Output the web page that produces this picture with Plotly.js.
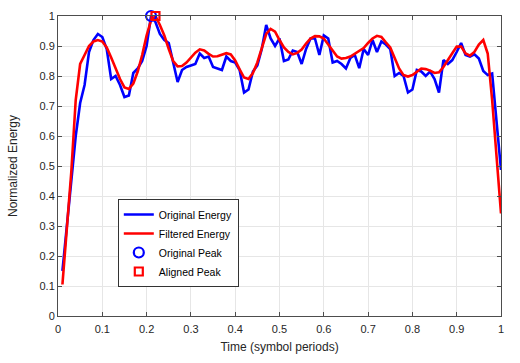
<!DOCTYPE html>
<html>
<head>
<meta charset="utf-8">
<script src="https://cdn.plot.ly/plotly-3.0.1.min.js"></script>
<style>
  html, body { margin: 0; padding: 0; background: #fff; }
  #plot { width: 520px; height: 363px; }
</style>
</head>
<body>
<div id="plot"></div>
<script>
// time axis, symbol periods (0.01 .. 1.00)
var t = [];
for (var i = 1; i <= 100; i++) t.push(i / 100);

// original energy
var origEnergy = [
  0.15, 0.30, 0.45, 0.60, 0.71, 0.77, 0.88, 0.92, 0.94, 0.93,
  0.89, 0.79, 0.80, 0.77, 0.73, 0.735, 0.81, 0.825, 0.85, 0.90,
  1.00, 0.98, 0.94, 0.92, 0.91, 0.85, 0.78, 0.82, 0.83, 0.835,
  0.84, 0.875, 0.86, 0.865, 0.83, 0.825, 0.82, 0.865, 0.85, 0.845,
  0.82, 0.745, 0.755, 0.815, 0.835, 0.89, 0.97, 0.925, 0.90, 0.925,
  0.85, 0.855, 0.885, 0.88, 0.84, 0.89, 0.925, 0.925, 0.87, 0.935,
  0.925, 0.845, 0.85, 0.84, 0.825, 0.86, 0.87, 0.826, 0.89, 0.87,
  0.92, 0.88, 0.915, 0.905, 0.89, 0.80, 0.81, 0.80, 0.745, 0.755,
  0.82, 0.815, 0.80, 0.815, 0.79, 0.745, 0.853, 0.84, 0.853, 0.88,
  0.91, 0.87, 0.865, 0.872, 0.858, 0.817, 0.803, 0.808, 0.64, 0.487
];

// filtered energy
var filtEnergy = [
  0.105, 0.29, 0.48, 0.72, 0.84, 0.87, 0.90, 0.915, 0.92, 0.915,
  0.895, 0.862, 0.825, 0.79, 0.762, 0.757, 0.775, 0.815, 0.87, 0.935,
  0.985, 1.00, 0.97, 0.935, 0.89, 0.85, 0.832, 0.833, 0.845, 0.862,
  0.878, 0.889, 0.885, 0.874, 0.865, 0.866, 0.871, 0.876, 0.872, 0.852,
  0.822, 0.795, 0.79, 0.81, 0.845, 0.895, 0.94, 0.957, 0.948, 0.92,
  0.895, 0.88, 0.872, 0.877, 0.888, 0.908, 0.925, 0.933, 0.932, 0.925,
  0.905, 0.882, 0.865, 0.858, 0.86, 0.865, 0.875, 0.883, 0.893, 0.91,
  0.925, 0.934, 0.93, 0.912, 0.895, 0.86, 0.825, 0.803, 0.798, 0.803,
  0.815, 0.825, 0.823, 0.818, 0.81, 0.812, 0.83, 0.855, 0.876, 0.898,
  0.898, 0.875, 0.868, 0.88, 0.905, 0.92, 0.875, 0.72, 0.54, 0.342
];

var origPeakX = [0.21], origPeakY = [1.0];
var alignPeakX = [0.22], alignPeakY = [1.0];

var font = "'Liberation Sans', Arial, Helvetica, sans-serif";

var traces = [
  { x: t, y: origEnergy, name: "Original Energy", mode: "lines",
    line: { color: "#0000ff", width: 2.6 } },
  { x: t, y: filtEnergy, name: "Filtered Energy", mode: "lines",
    line: { color: "#ff0000", width: 2.6 } },
  { x: origPeakX, y: origPeakY, name: "Original Peak", mode: "markers", cliponaxis: false,
    marker: { symbol: "circle-open", size: 10, color: "#0000ff", line: { width: 2.2 } } },
  { x: alignPeakX, y: alignPeakY, name: "Aligned Peak", mode: "markers", cliponaxis: false,
    marker: { symbol: "square-open", size: 8, color: "#ff0000", line: { width: 2.2 } } }
];

var axisCommon = {
  range: [0, 1],
  dtick: 0.1,
  showgrid: true,
  gridcolor: "#e6e6e6",
  gridwidth: 1,
  zeroline: false,
  showline: true,
  linecolor: "#4d4d4d",
  linewidth: 1,
  mirror: "ticks",
  ticks: "inside",
  ticklen: 4,
  tickcolor: "#4d4d4d",
  tickfont: { family: font, size: 11, color: "#262626" }
};

var layout = {
  width: 520,
  height: 363,
  margin: { l: 58, r: 19, t: 16, b: 47 },
  paper_bgcolor: "#ffffff",
  plot_bgcolor: "#ffffff",
  showlegend: true,
  xaxis: Object.assign({}, axisCommon, {
    ticklabelstandoff: 3,
    title: { text: "Time (symbol periods)", font: { family: font, size: 12, color: "#262626" }, standoff: 8 }
  }),
  yaxis: Object.assign({}, axisCommon, {
    title: { text: "Normalized Energy", font: { family: font, size: 12, color: "#262626" }, standoff: 19 }
  }),
  legend: {
    x: 0.135, y: 0.39, xanchor: "left", yanchor: "top",
    bgcolor: "#ffffff",
    bordercolor: "#333333",
    borderwidth: 1,
    font: { family: font, size: 10.5, color: "#000" },
    tracegroupgap: 0,
    itemwidth: 30
  }
};

Plotly.newPlot("plot", traces, layout, { displayModeBar: false, staticPlot: true });
</script>
</body>
</html>
